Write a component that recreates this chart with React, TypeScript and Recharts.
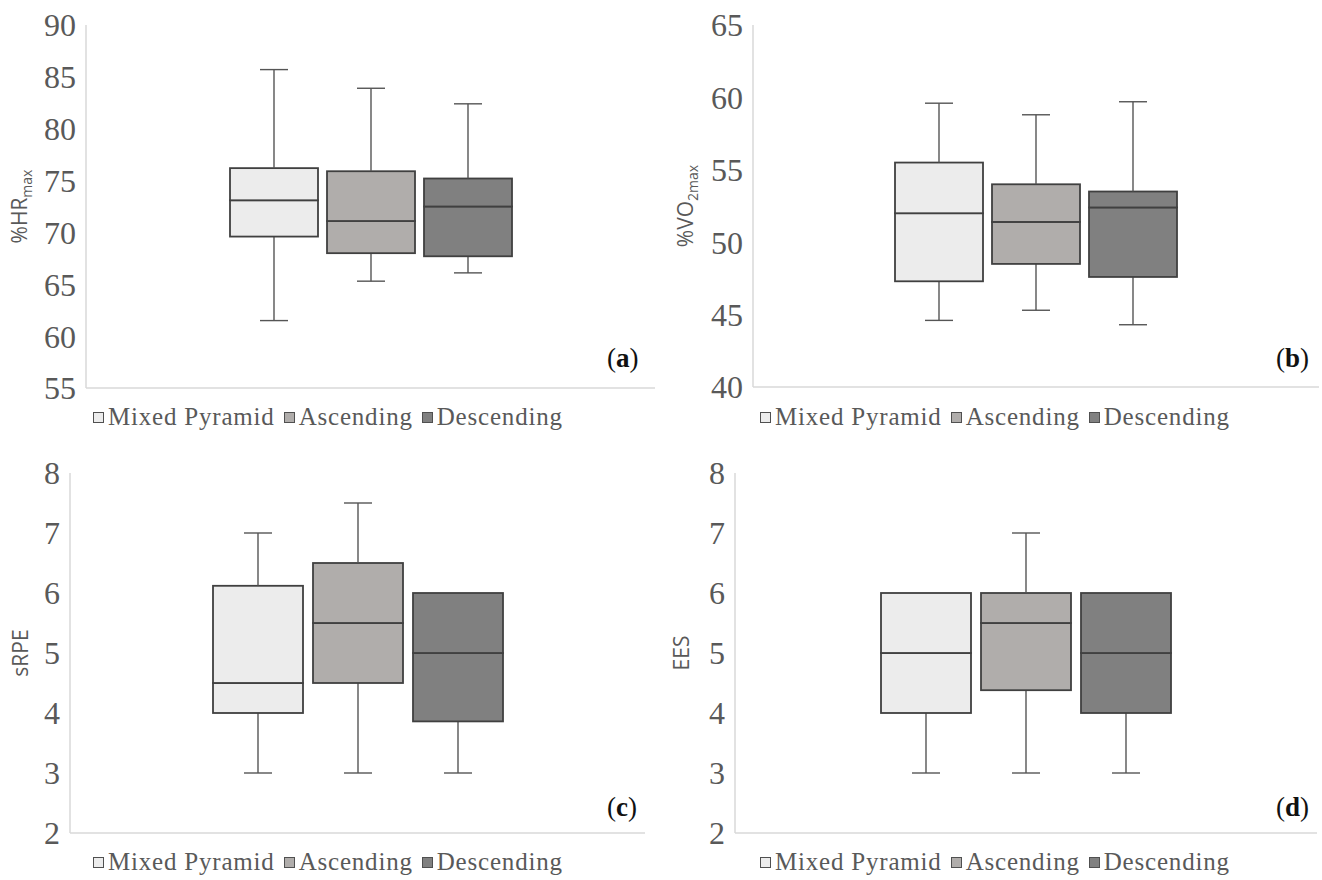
import React from 'react';
import {ComposedChart, Bar, XAxis, YAxis, Label} from 'recharts';

const groups = ['Mixed Pyramid', 'Ascending', 'Descending'];
const groupFills = ['#ececec', '#b0adab', '#808080'];

// (a) %HRmax
const hrTicks = [55, 60, 65, 70, 75, 80, 85, 90];
const hrMin = [61.5, 65.3, 66.1];
const hrQ1 = [69.6, 68.0, 67.7];
const hrMedian = [73.1, 71.1, 72.5];
const hrQ3 = [76.2, 75.9, 75.2];
const hrMax = [85.7, 83.9, 82.4];

// (b) %VO2max
const vo2Ticks = [40, 45, 50, 55, 60, 65];
const vo2Min = [44.6, 45.3, 44.3];
const vo2Q1 = [47.3, 48.5, 47.6];
const vo2Median = [52.0, 51.4, 52.4];
const vo2Q3 = [55.5, 54.0, 53.5];
const vo2Max = [59.6, 58.8, 59.7];

// (c) sRPE
const rpeTicks = [2, 3, 4, 5, 6, 7, 8];
const rpeMin = [3, 3, 3];
const rpeQ1 = [4.0, 4.5, 3.86];
const rpeMedian = [4.5, 5.5, 5.0];
const rpeQ3 = [6.12, 6.5, 6.0];
const rpeMax = [7.0, 7.5, 6.0];

// (d) EES
const eesTicks = [2, 3, 4, 5, 6, 7, 8];
const eesMin = [3, 3, 3];
const eesQ1 = [4.0, 4.38, 4.0];
const eesMedian = [5.0, 5.5, 5.0];
const eesQ3 = [6.0, 6.0, 6.0];
const eesMax = [6.0, 7.0, 6.0];

type Stats = {min: number[]; q1: number[]; median: number[]; q3: number[]; max: number[]};

// one category, each group is its own stack: base | lower whisker | lower box | upper box | upper whisker
const buildRows = (s: Stats) => {
    const row: Record<string, number | string> = {name: 'session'};
    groups.forEach((_, i) => {
        row[`g${i}_base`] = s.min[i];
        row[`g${i}_lw`] = s.q1[i] - s.min[i];
        row[`g${i}_lb`] = s.median[i] - s.q1[i];
        row[`g${i}_ub`] = s.q3[i] - s.median[i];
        row[`g${i}_uw`] = s.max[i] - s.q3[i];
    });
    return [row];
};

const WHISKER = '#555';
const BOX_STROKE = '#404040';
const CAP = 14;

const LowerWhisker = (p: any) => {
    if (!p.height || p.height < 0.5) return <g/>;
    const cx = p.x + p.width / 2;
    const yb = p.y + p.height;
    return (
        <g>
            <line x1={cx} x2={cx} y1={p.y} y2={yb} stroke={WHISKER} strokeWidth={1.4}/>
            <line x1={cx - CAP} x2={cx + CAP} y1={yb} y2={yb} stroke={WHISKER} strokeWidth={1.4}/>
        </g>
    );
};

const UpperWhisker = (p: any) => {
    if (!p.height || p.height < 0.5) return <g/>;
    const cx = p.x + p.width / 2;
    return (
        <g>
            <line x1={cx} x2={cx} y1={p.y} y2={p.y + p.height} stroke={WHISKER} strokeWidth={1.4}/>
            <line x1={cx - CAP} x2={cx + CAP} y1={p.y} y2={p.y} stroke={WHISKER} strokeWidth={1.4}/>
        </g>
    );
};

const BoxPart = (fill: string) => (p: any) => (
    <rect x={p.x} y={p.y} width={p.width} height={Math.max(p.height, 0)} fill={fill}
          stroke={BOX_STROKE} strokeWidth={1.8}/>
);

type PanelProps = {
    left: number; top: number; yWidth: number;
    margin: {top: number; right: number; bottom: number; left: number};
    domain: [number, number]; ticks: number[]; stats: Stats;
    title: string; sub?: string; titleX: number;
    barSize: number; barGap: number;
};

const W = 661;
const H = 440;
const AXIS = {stroke: '#d9d9d9', strokeWidth: 1.5};

const BoxPanel: React.FC<PanelProps> = ({left, top, yWidth, margin, domain, ticks, stats, title, sub, titleX, barSize, barGap}) => (
    <div style={{position: 'absolute', left, top}}>
        <ComposedChart width={W} height={H} data={buildRows(stats)} margin={margin} barSize={barSize} barGap={barGap}>
            <XAxis dataKey="name" tick={false} tickLine={false} height={2} axisLine={AXIS}/>
            <YAxis width={yWidth} domain={domain} ticks={ticks} allowDataOverflow interval={0}
                   tickLine={false} tickSize={0} tickMargin={10} axisLine={AXIS}
                   tick={{fill: '#595959', fontSize: 32, fontFamily: 'Liberation Serif'}}>
                <Label content={(lp: any) => {
                    const vb = lp.viewBox;
                    const cy = vb.y + vb.height / 2;
                    return (
                        <text x={titleX} y={cy} transform={`rotate(-90, ${titleX}, ${cy})`} textAnchor="middle"
                              fill="#595959" fontFamily="Open Sans" fontSize={21}>
                            <tspan>{title}</tspan>
                            {sub ? <tspan fontSize={14} dy={5}>{sub}</tspan> : null}
                        </text>
                    );
                }}/>
            </YAxis>
            {groups.map((g, i) => [
                <Bar key={`${g}-base`} dataKey={`g${i}_base`} stackId={`g${i}`} fill="none" isAnimationActive={false}/>,
                <Bar key={`${g}-lw`} dataKey={`g${i}_lw`} stackId={`g${i}`} shape={LowerWhisker} isAnimationActive={false}/>,
                <Bar key={`${g}-lb`} dataKey={`g${i}_lb`} stackId={`g${i}`} shape={BoxPart(groupFills[i])} isAnimationActive={false}/>,
                <Bar key={`${g}-ub`} dataKey={`g${i}_ub`} stackId={`g${i}`} shape={BoxPart(groupFills[i])} isAnimationActive={false}/>,
                <Bar key={`${g}-uw`} dataKey={`g${i}_uw`} stackId={`g${i}`} shape={UpperWhisker} isAnimationActive={false}/>,
            ])}
        </ComposedChart>
    </div>
);

const GroupLegend: React.FC<{left: number; top: number}> = ({left, top}) => (
    <div style={{
        position: 'absolute', left, top, display: 'flex', alignItems: 'center', lineHeight: '30px',
        fontFamily: 'Liberation Serif', fontSize: 25, letterSpacing: 0.8, color: '#595959', whiteSpace: 'nowrap',
    }}>
        {groups.map((g, i) => (
            <span key={g} style={{display: 'flex', alignItems: 'center', marginRight: 9}}>
                <span style={{
                    display: 'inline-block', width: 9, height: 9, background: groupFills[i],
                    border: '1px solid #505050', marginRight: 4,
                }}/>
                {g}
            </span>
        ))}
    </div>
);

const Tag: React.FC<{left: number; top: number; letter: string}> = ({left, top, letter}) => (
    <div style={{
        position: 'absolute', left, top, fontFamily: 'Liberation Serif', fontSize: 27, lineHeight: '27px',
        color: '#111',
    }}>
        (<b>{letter}</b>)
    </div>
);

export default function App() {
    return (
        <div style={{position: 'absolute', left: 0, top: 0, width: 1322, height: 880, background: '#fff', overflow: 'hidden'}}>
            <BoxPanel left={0} top={0} yWidth={86} margin={{top: 25, right: 6, bottom: 50, left: 0}}
                      domain={[55, 90]} ticks={hrTicks}
                      stats={{min: hrMin, q1: hrQ1, median: hrMedian, q3: hrQ3, max: hrMax}}
                      title="%HR" sub="max" titleX={27} barSize={88} barGap={9}/>
            <BoxPanel left={661} top={0} yWidth={92} margin={{top: 25, right: 3, bottom: 51, left: 0}}
                      domain={[40, 65]} ticks={vo2Ticks}
                      stats={{min: vo2Min, q1: vo2Q1, median: vo2Median, q3: vo2Q3, max: vo2Max}}
                      title="%VO" sub="2max" titleX={32} barSize={88} barGap={9}/>
            <BoxPanel left={0} top={440} yWidth={70} margin={{top: 33, right: 16, bottom: 45, left: 0}}
                      domain={[2, 8]} ticks={rpeTicks}
                      stats={{min: rpeMin, q1: rpeQ1, median: rpeMedian, q3: rpeQ3, max: rpeMax}}
                      title="sRPE" titleX={28} barSize={90} barGap={10}/>
            <BoxPanel left={661} top={440} yWidth={74} margin={{top: 33, right: 5, bottom: 45, left: 0}}
                      domain={[2, 8]} ticks={eesTicks}
                      stats={{min: eesMin, q1: eesQ1, median: eesMedian, q3: eesQ3, max: eesMax}}
                      title="EES" titleX={28} barSize={90} barGap={10}/>
            <GroupLegend left={93} top={402}/>
            <GroupLegend left={760} top={402}/>
            <GroupLegend left={93} top={847}/>
            <GroupLegend left={760} top={847}/>
            <Tag left={607} top={345} letter="a"/>
            <Tag left={1276} top={345} letter="b"/>
            <Tag left={607} top={794} letter="c"/>
            <Tag left={1276} top={794} letter="d"/>
        </div>
    );
}
